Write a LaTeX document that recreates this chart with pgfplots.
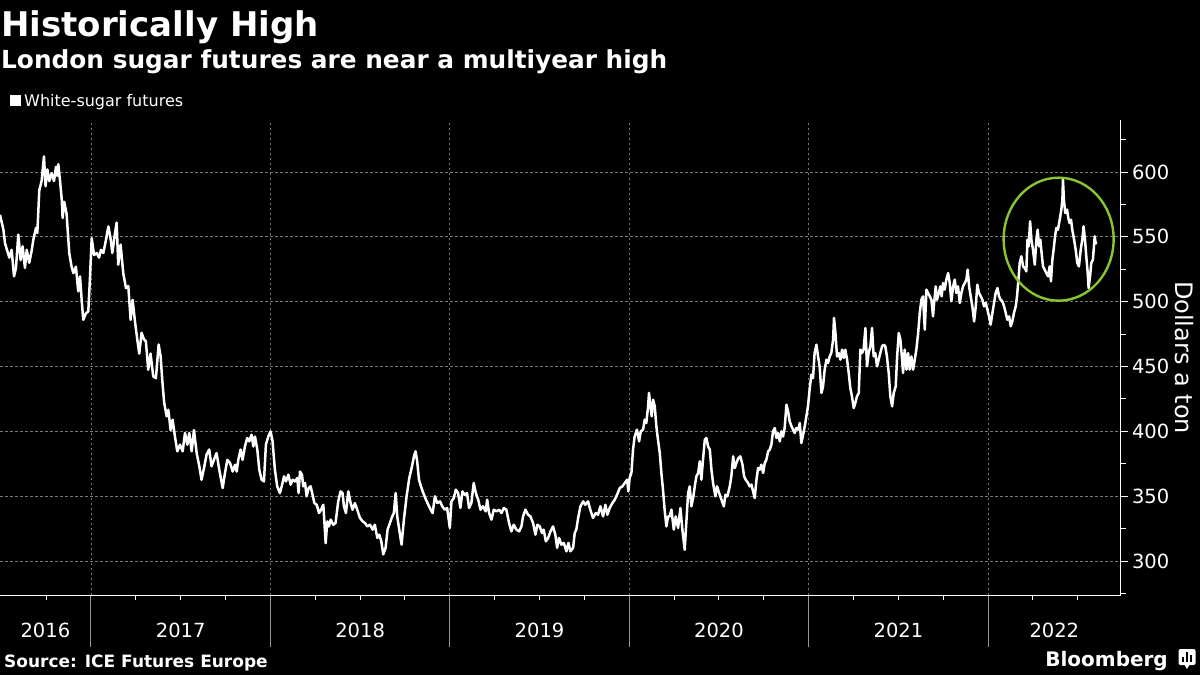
\documentclass[border=0pt]{standalone}
\usepackage{fontspec}
\setmainfont{DejaVu Sans}
\usepackage{pgfplots}
\pgfplotsset{compat=1.18}
\definecolor{hl}{RGB}{137,197,44}
\definecolor{gridc}{RGB}{120,120,120}
\definecolor{sepc}{RGB}{150,150,150}
\begin{document}
\begin{tikzpicture}
\fill[black] (0pt,0pt) rectangle (1200pt,-675pt);
\begin{axis}[
  at={(0pt,-595pt)}, anchor=south west,
  width=1120.5pt, height=475pt, scale only axis,
  xmin=2016.493, xmax=2022.738, ymin=273.8, ymax=640.1,
  axis x line=bottom, axis y line=right,
  axis line style={-, white, line width=1pt},
  xtick={2017,2018,2019,2020,2021,2022}, xticklabels={},
  minor xtick={2016.75,2017.25,2017.5,2017.75,2018.25,2018.5,2018.75,2019.25,2019.5,2019.75,2020.25,2020.5,2020.75,2021.25,2021.5,2021.75,2022.25,2022.5},
  ytick={300,350,400,450,500,550,600},
  minor ytick={275,325,375,425,475,525,575,625},
  tick align=outside, major tick length=7pt, minor tick length=5pt,
  tick style={white, line width=1pt},
  xmajorgrids, ymajorgrids,
  major grid style={gridc, line width=0.7pt, dash pattern=on 2.5pt off 2.5pt},
  yticklabel style={white, font=\fontsize{19.5}{22}\selectfont, xshift=1pt},
  /pgf/number format/assume math mode=true,
]
\addplot[white, line width=2.5pt, line join=round] coordinates {
(2016.493,567)(2016.512,555.5)(2016.521,545)(2016.534,539)(2016.545,534)(2016.558,540)(2016.571,519.5)(2016.582,526)(2016.595,551.7)(2016.608,532)
(2016.619,542.7)(2016.632,526)(2016.642,540)(2016.656,530)(2016.669,539)(2016.679,548)(2016.694,557)(2016.701,553)(2016.712,586)(2016.725,593)
(2016.738,612)(2016.747,589)(2016.757,602)(2016.768,593)(2016.781,599)(2016.794,593)(2016.805,604)(2016.812,597)(2016.818,606)(2016.827,594)
(2016.837,579)(2016.842,564.5)(2016.851,577)(2016.864,568)(2016.879,537.5)(2016.892,527)(2016.902,522)(2016.916,527)(2016.929,508)(2016.939,519.5)
(2016.948,501.5)(2016.957,486)(2016.972,491)(2016.985,492.5)(2016.994,517)(2017.004,549)(2017.017,536)(2017.032,537.5)(2017.045,534)(2017.056,540)
(2017.069,537.5)(2017.084,548)(2017.097,558)(2017.110,548)(2017.119,537.5)(2017.134,553)(2017.143,561)(2017.152,528.5)(2017.165,544)(2017.180,522)
(2017.195,510.5)(2017.208,512)(2017.221,486)(2017.232,501.5)(2017.245,485)(2017.258,471)(2017.269,460)(2017.282,476)(2017.295,471)(2017.306,469.5)
(2017.319,447.5)(2017.332,460)(2017.347,442.4)(2017.362,441)(2017.377,467)(2017.388,458)(2017.397,440)(2017.408,422)(2017.422,411.6)(2017.431,416.7)
(2017.444,401)(2017.455,409)(2017.468,396)(2017.481,384.6)(2017.496,389.7)(2017.511,384.6)(2017.524,398.7)(2017.537,389.7)(2017.548,398.7)(2017.561,384.6)
(2017.574,401)(2017.589,383.3)(2017.604,373)(2017.616,362.7)(2017.630,371.7)(2017.644,382)(2017.659,386)(2017.672,373)(2017.685,378)(2017.700,383.3)
(2017.715,370.4)(2017.734,356.3)(2017.747,368)(2017.760,378)(2017.775,375.6)(2017.790,369)(2017.803,374.3)(2017.812,369)(2017.821,378)(2017.834,386)
(2017.845,378)(2017.858,388.4)(2017.871,394.9)(2017.882,392.3)(2017.895,397.4)(2017.905,388.4)(2017.914,396)(2017.927,386)(2017.938,370.4)(2017.951,362.7)
(2017.964,361.4)(2017.975,389.7)(2017.988,396)(2018.001,400)(2018.012,392.3)(2018.025,370.4)(2018.038,357.6)(2018.053,352.4)(2018.063,357.6)(2018.076,365.3)
(2018.087,361.4)(2018.100,366.6)(2018.113,358.9)(2018.124,362.7)(2018.137,361.4)(2018.150,364)(2018.157,352.4)(2018.165,369)(2018.176,366.6)(2018.183,357.6)
(2018.193,360.2)(2018.202,349.9)(2018.213,356.3)(2018.224,357.6)(2018.235,351.1)(2018.245,344.7)(2018.258,343.4)(2018.271,337)(2018.282,339.6)(2018.295,343.4)
(2018.308,313.8)(2018.317,330.6)(2018.326,326.7)(2018.336,331.9)(2018.350,328)(2018.363,329.3)(2018.378,346)(2018.391,353.7)(2018.402,352.4)(2018.410,342.2)
(2018.421,337)(2018.434,353.7)(2018.447,344.7)(2018.458,339.6)(2018.471,344.7)(2018.484,339.6)(2018.499,333.2)(2018.514,330.6)(2018.527,329.3)(2018.540,326.7)
(2018.555,328)(2018.570,324.2)(2018.582,328)(2018.596,317.8)(2018.607,320.3)(2018.618,315.2)(2018.629,305.1)(2018.642,310.2)(2018.653,324.2)(2018.666,329.3)
(2018.679,334.4)(2018.688,337)(2018.698,352.4)(2018.707,334.4)(2018.718,324.2)(2018.731,312.6)(2018.744,331.9)(2018.759,349.9)(2018.774,364)(2018.787,371.7)
(2018.800,380.7)(2018.809,384.6)(2018.818,376.9)(2018.828,362.7)(2018.839,357.6)(2018.852,352.4)(2018.867,347.3)(2018.880,343.4)(2018.893,339.6)(2018.904,337)
(2018.917,349.9)(2018.930,344.7)(2018.945,346)(2018.958,342.2)(2018.972,339.6)(2018.985,340.9)(2019.000,325.5)
(2019.009,346)(2019.022,348.6)(2019.033,355)(2019.046,352.4)(2019.059,340.9)(2019.070,353.7)(2019.083,351.1)(2019.096,352.4)(2019.107,340.9)(2019.120,344.7)
(2019.133,360.2)(2019.145,352.4)(2019.158,347.3)(2019.171,339.6)(2019.185,342.2)(2019.200,338.3)(2019.208,347.3)(2019.219,337)(2019.232,331.9)(2019.245,339.6)
(2019.260,338.3)(2019.275,339.6)(2019.288,337)(2019.301,340.9)(2019.315,339.6)(2019.330,329.3)(2019.343,322.9)(2019.356,328)(2019.371,324.2)(2019.386,322.9)
(2019.399,326.7)(2019.408,334.4)(2019.421,339.6)(2019.436,335.7)(2019.449,334.4)(2019.464,329.3)(2019.477,320.3)(2019.488,328)(2019.501,326.7)(2019.514,321.6)
(2019.523,324.2)(2019.535,315.2)(2019.548,317.8)(2019.561,322.9)(2019.575,326.7)(2019.588,320.3)(2019.598,310.2)(2019.609,317.8)(2019.622,312.6)(2019.635,314)
(2019.650,307.5)(2019.661,314)(2019.672,307.5)(2019.687,310.2)(2019.696,321.6)(2019.705,324.2)(2019.715,333.2)(2019.728,342.2)(2019.743,346)(2019.755,343.4)
(2019.770,346)(2019.783,339.6)(2019.798,333.2)(2019.813,337)(2019.826,335.7)(2019.839,342.2)(2019.854,334.4)(2019.867,343.4)(2019.878,335.7)(2019.891,340.9)
(2019.906,344.7)(2019.919,347.3)(2019.932,351.1)(2019.947,356.3)(2019.962,357.6)(2019.975,360.2)(2019.988,362.7)(2019.995,353.7)(2020.002,364)(2020.012,367.9)
(2020.021,385.9)(2020.030,396)(2020.043,401.3)(2020.055,392.3)(2020.064,400)(2020.077,401.3)(2020.086,409)(2020.095,406.4)(2020.105,419.3)(2020.110,429.6)
(2020.118,419.3)(2020.125,411.6)(2020.133,424.4)(2020.142,419.3)(2020.151,403.9)(2020.160,393.6)(2020.170,383.3)(2020.179,367.9)(2020.188,355)(2020.197,339.6)
(2020.207,326.7)(2020.216,334.4)(2020.225,334.4)
(2020.235,339.6)(2020.248,324.2)(2020.259,334.4)(2020.272,325.5)(2020.285,340.9)(2020.296,324.2)(2020.309,308.7)(2020.319,331.9)(2020.328,352.4)(2020.337,357.6)
(2020.346,342.2)(2020.356,348.6)(2020.365,357.6)(2020.374,365.3)(2020.384,367.9)(2020.393,376.9)(2020.402,362.7)(2020.411,378.1)(2020.421,393.6)(2020.430,394.9)
(2020.439,388.4)(2020.449,385.9)(2020.458,370.4)(2020.467,360.2)(2020.480,349.9)(2020.489,357.6)(2020.501,352.4)(2020.514,347.3)(2020.527,342.2)(2020.536,351.1)
(2020.547,349.9)(2020.560,357.6)(2020.569,365.3)(2020.579,380.7)(2020.588,371.7)(2020.597,375.6)(2020.608,379.4)(2020.619,380.7)(2020.631,374.3)(2020.640,365.3)
(2020.649,362.7)(2020.662,360.2)(2020.671,357.6)(2020.681,358.9)(2020.690,353.7)(2020.699,348.6)(2020.709,362.7)(2020.718,371.7)(2020.727,370.4)(2020.736,374.3)
(2020.746,367.9)(2020.755,375.6)(2020.764,378.1)(2020.774,384.6)(2020.783,385.9)(2020.792,389.7)(2020.801,400)(2020.811,402.6)(2020.820,394.9)(2020.829,398.7)
(2020.839,392.3)(2020.848,400)(2020.857,396)(2020.866,402.6)(2020.876,420.6)(2020.885,415.4)(2020.894,407.7)(2020.904,403.9)(2020.913,401.3)(2020.922,398.7)
(2020.931,402.6)(2020.941,401.3)(2020.950,406.4)(2020.959,391)(2020.969,397.4)(2020.978,403.9)(2020.987,411.6)(2020.996,419.3)(2021.006,433.4)(2021.015,443.7)
(2021.024,441.1)(2021.033,460.4)(2021.043,466.8)(2021.052,457.8)(2021.061,450.1)(2021.071,429.6)(2021.080,434.7)(2021.089,447.6)(2021.099,455.3)(2021.108,452.7)
(2021.117,457.8)(2021.126,460.4)(2021.136,470.7)(2021.141,487.4)(2021.149,475.8)(2021.158,457.8)(2021.167,460.4)(2021.177,455.3)(2021.186,463)(2021.195,456.6)
(2021.204,463)(2021.214,455.3)(2021.223,445)(2021.232,433.4)(2021.241,427)(2021.251,418)(2021.260,421.9)(2021.269,427)(2021.279,429.6)(2021.288,463)
(2021.297,460.4)(2021.306,463)(2021.316,479.7)(2021.325,450.1)(2021.334,460.4)(2021.344,465.6)(2021.353,479.7)(2021.362,457.8)(2021.371,460.4)(2021.381,450.1)
(2021.390,455.3)(2021.399,460.4)(2021.409,465.6)(2021.418,466.8)(2021.427,465.6)(2021.436,457.8)(2021.446,445)(2021.455,427)
(2021.465,419.3)(2021.474,429.6)(2021.485,434.7)(2021.493,457.8)(2021.502,475.8)(2021.511,470.7)(2021.519,457.8)(2021.526,445)(2021.535,463)(2021.545,447.6)
(2021.554,460.4)(2021.563,447.6)(2021.572,457.8)(2021.582,447.6)(2021.591,455.3)(2021.600,463)(2021.610,475.8)(2021.619,491.3)(2021.628,501.5)(2021.637,504.1)
(2021.647,478.4)(2021.656,509.3)(2021.665,506.7)(2021.675,504.1)(2021.684,501.5)(2021.693,488.7)(2021.699,499)(2021.708,511.8)(2021.715,501.5)(2021.725,506.7)
(2021.734,511.8)(2021.741,504.1)(2021.749,514.4)(2021.758,509.3)(2021.767,517)(2021.777,522.1)(2021.786,514.4)(2021.795,500.3)(2021.805,511.8)(2021.814,517)
(2021.823,506.7)(2021.832,511.8)(2021.842,499)(2021.851,506.7)(2021.860,511.8)(2021.870,514.4)(2021.879,517)(2021.886,524.7)(2021.894,511.8)(2021.903,504.1)
(2021.912,496.4)(2021.922,484.8)(2021.931,496.4)(2021.940,513.1)(2021.949,506.7)(2021.959,504.1)(2021.968,501.5)(2021.977,496.4)(2021.987,499)(2021.996,493.8)
(2022.005,488.7)(2022.014,482.3)(2022.024,491.3)(2022.033,499)(2022.042,506.7)(2022.052,510.5)(2022.061,504.1)(2022.070,501.5)(2022.079,500.3)(2022.089,496.4)
(2022.098,491.3)(2022.107,486.1)(2022.117,488.7)(2022.126,481)(2022.135,484.8)(2022.144,491.3)(2022.154,496.4)(2022.161,504.1)(2022.169,517)(2022.176,529.8)
(2022.185,535)(2022.195,527.2)(2022.204,526)(2022.213,523.4)(2022.219,547.8)(2022.226,542.7)(2022.234,562)(2022.241,547.8)(2022.250,540.1)(2022.260,528.5)
(2022.269,547.8)(2022.276,555.5)(2022.284,542.7)(2022.291,547.8)(2022.298,537.5)(2022.306,527.2)(2022.315,524.7)(2022.324,522.1)(2022.334,519.5)(2022.343,527.2)
(2022.350,515.7)(2022.358,532.4)(2022.365,540.1)(2022.373,550.4)(2022.380,556.8)(2022.389,555.5)(2022.399,563.2)(2022.408,571)(2022.414,578.7)(2022.417,594.1)
(2022.423,577.4)(2022.430,568.4)(2022.440,571)(2022.447,564.5)(2022.454,560.7)(2022.462,563.2)(2022.469,555.5)(2022.479,547.8)(2022.488,540.1)(2022.497,529.8)
(2022.506,527.2)(2022.516,540.1)(2022.525,547.8)(2022.532,558.1)(2022.540,547.8)(2022.547,535)(2022.555,522.1)(2022.560,510.5)(2022.568,519.5)(2022.575,529.8)
(2022.584,532.4)(2022.594,550.4)(2022.599,545.2)(2022.607,545.2)
};
\draw[hl, line width=2.4pt] (axis cs:2022.393,548.2) ellipse [x radius=55pt, y radius=61.5pt];
\end{axis}
\begin{axis}[
  at={(0pt,-595pt)}, anchor=south west,
  width=1120.5pt, height=475pt, scale only axis,
  xmin=2016.493, xmax=2022.738, ymin=273.8, ymax=640.1,
  axis x line=bottom, axis y line=none,
  axis line style={-, white, line width=1pt},
  xtick={2016.746,2017.5,2018.5,2019.5,2020.5,2021.5,2022.369},
  xticklabels={2016,2017,2018,2019,2020,2021,2022},
  minor xtick={2017,2018,2019,2020,2021,2022},
  tick align=outside, major tick length=0pt, minor tick length=52pt,
  major tick style={draw=none},
  minor tick style={sepc, line width=1pt},
  ytick=\empty,
  xticklabel style={white, font=\fontsize{19.5}{22}\selectfont, yshift=-24pt},
  /pgf/number format/assume math mode=true,
]
\addplot[draw=none] coordinates {(2017,300)};
\end{axis}
\node[anchor=base west, inner sep=0pt, white] at (1pt,-36.7pt) {\fontsize{34}{40}\selectfont\bfseries Historically High};
\node[anchor=base west, inner sep=0pt, white] at (1pt,-68.3pt) {\fontsize{24.8}{28}\selectfont\bfseries London sugar futures are near a multiyear high};
\fill[white] (10pt,-95pt) rectangle (20.7pt,-106pt);
\node[anchor=base west, inner sep=0pt, white] at (24pt,-106.5pt) {\fontsize{16}{19}\selectfont White-sugar futures};
\node[anchor=base, inner sep=0pt, white, rotate=-90] at (1175pt,-357.5pt) {\fontsize{24}{28}\selectfont Dollars a ton};
\node[anchor=base west, inner sep=0pt, white] at (4pt,-667pt) {\fontsize{17}{20}\selectfont\bfseries Source: ICE Futures Europe};
\node[anchor=base east, inner sep=0pt, white] at (1168pt,-666pt) {\fontsize{20}{24}\selectfont\bfseries Bloomberg};
\fill[white, rounded corners=2pt] (1178.5pt,-649pt) rectangle (1195.5pt,-665pt);
\fill[white] (1184pt,-664pt) -- (1187pt,-669pt) -- (1190pt,-664pt) -- cycle;
\fill[black] (1182pt,-662pt) rectangle (1184pt,-657pt);
\fill[black] (1186pt,-662pt) rectangle (1188pt,-652pt);
\fill[black] (1190pt,-662pt) rectangle (1192pt,-655pt);
\pgfresetboundingbox
\useasboundingbox (0pt,0pt) rectangle (1200pt,-675pt);
\end{tikzpicture}
\end{document}
